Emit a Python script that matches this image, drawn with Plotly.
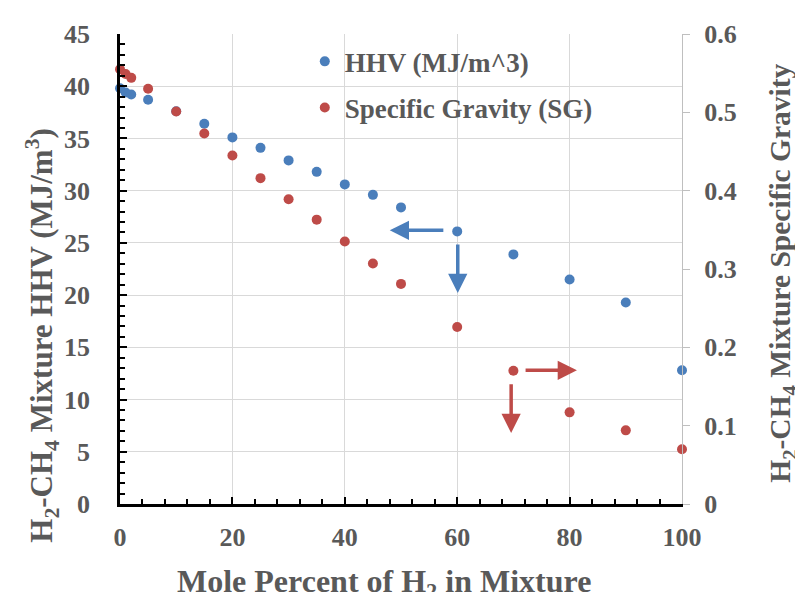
import plotly.graph_objects as go

# ---- data ----
mole_pct_h2 = [0, 1, 2, 5, 10, 15, 20, 25, 30, 35, 40, 45, 50, 60, 70, 80, 90, 100]
hhv_mj_m3 = [39.8, 39.4, 39.2, 38.7, 37.6, 36.4, 35.1, 34.1, 32.9, 31.8, 30.6, 29.6,
             28.4, 26.1, 23.9, 21.5, 19.3, 12.8]
specific_gravity = [0.555, 0.549, 0.544, 0.530, 0.501, 0.473, 0.445, 0.416, 0.389, 0.363,
                    0.335, 0.307, 0.281, 0.226, 0.170, 0.117, 0.094, 0.070]

series_names = ["HHV (MJ/m^3)", "Specific Gravity (SG)"]
x_title = "Mole Percent of H<sub>2</sub> in Mixture"
y_title = "H<sub>2</sub>-CH<sub>4</sub> Mixture HHV (MJ/m<sup>3</sup>)"
y2_title = "H<sub>2</sub>-CH<sub>4</sub> Mixture Specific Gravity"

# arrows: (tip_x, tip_y, tail_x, tail_y) in data units of x / left y axis
blue_arrows = [(48.0, 26.2, 57.8, 26.2), (60.1, 20.2, 60.1, 25.0)]
red_arrows = [(81.3, 12.8, 71.9, 12.8), (69.6, 6.8, 69.6, 11.6)]

BLUE = "#4a7ebb"
RED = "#be4b48"
GRAY = "#595959"
FONT = "Liberation Serif"

fig = go.Figure()
fig.add_trace(go.Scatter(x=mole_pct_h2, y=hhv_mj_m3, mode="markers", name=series_names[0],
                         legendgroup="a", marker=dict(color=BLUE, size=10),
                         cliponaxis=False, yaxis="y"))
fig.add_trace(go.Scatter(x=mole_pct_h2, y=specific_gravity, mode="markers", name=series_names[1],
                         legendgroup="b", marker=dict(color=RED, size=10),
                         cliponaxis=False, yaxis="y2"))

annotations = []
for color, arrows in ((BLUE, blue_arrows), (RED, red_arrows)):
    for tx, ty, sx, sy in arrows:
        annotations.append(dict(x=tx, y=ty, ax=sx, ay=sy, xref="x", yref="y", axref="x", ayref="y",
                                text="", showarrow=True, arrowhead=2, arrowsize=1.1,
                                arrowwidth=3.5, arrowcolor=color))

annotations.append(dict(text=f"<b>{y_title}</b>", xref="paper", yref="paper", x=-0.139, y=0.36,
                        textangle=-90, showarrow=False, xanchor="center", yanchor="middle",
                        font=dict(family=FONT, size=31, color=GRAY)))
annotations.append(dict(text=f"<b>{y2_title}</b>", xref="paper", yref="paper", x=1.178, y=0.49,
                        textangle=-90, showarrow=False, xanchor="center", yanchor="middle",
                        font=dict(family=FONT, size=29.5, color=GRAY)))
annotations.append(dict(text=f"<b>{x_title}</b>", xref="paper", yref="paper", x=0.469, y=-0.17,
                        showarrow=False, xanchor="center", yanchor="middle",
                        font=dict(family=FONT, size=32, color=GRAY)))

tickfont = dict(family=FONT, size=26, color=GRAY, weight="bold")

fig.update_layout(
    width=803, height=592,
    margin=dict(l=112, r=129, t=23, b=96),
    paper_bgcolor="white", plot_bgcolor="white",
    font=dict(family=FONT, color=GRAY),
    showlegend=True,
    legend=dict(x=0.3288, y=0.993, xanchor="left", yanchor="top", bgcolor="rgba(0,0,0,0)",
                font=dict(family=FONT, size=27, color=GRAY, weight="bold"),
                traceorder="grouped", tracegroupgap=8, itemwidth=30),
    xaxis=dict(range=[0, 100], dtick=20, showgrid=True, gridcolor="#d9d9d9", gridwidth=1,
               showline=True, linecolor="black", linewidth=2.5, zeroline=False,
               ticks="inside", ticklen=7, tickwidth=2, tickcolor="black",
               minor=dict(dtick=4, ticks="inside", ticklen=5, tickwidth=1.5, tickcolor="black", showgrid=False),
               tickfont=tickfont, ticklabelstandoff=8),
    yaxis=dict(range=[0, 45], dtick=5, showgrid=True, gridcolor="#d9d9d9", gridwidth=1,
               showline=True, linecolor="black", linewidth=2.5, zeroline=False,
               ticks="inside", ticklen=7, tickwidth=2, tickcolor="black",
               minor=dict(dtick=1, ticks="inside", ticklen=5, tickwidth=1.5, tickcolor="black", showgrid=False),
               tickfont=tickfont, ticklabelstandoff=22),
    yaxis2=dict(range=[0, 0.6], dtick=0.1, overlaying="y", side="right", showgrid=False,
                showline=True, linecolor="#bfbfbf", linewidth=1, zeroline=False,
                ticks="outside", ticklen=7, tickcolor="#bfbfbf",
                tickfont=tickfont, ticklabelstandoff=9),
    annotations=annotations,
)

fig.write_html("out.html")
